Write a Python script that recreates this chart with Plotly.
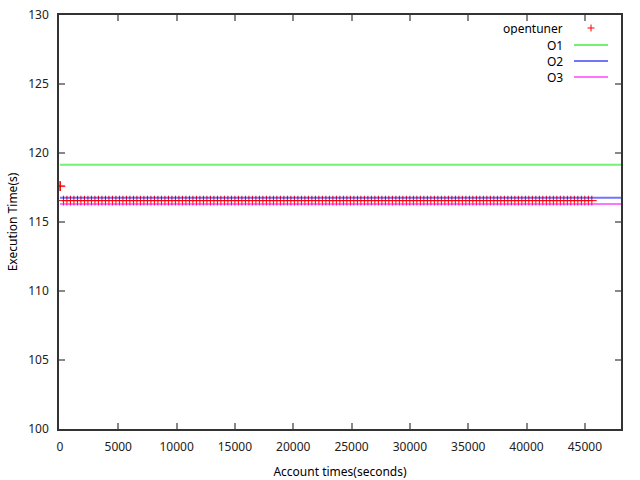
import plotly.graph_objects as go

# ---- data ----
opentuner_x = [0, 40,
    300, 600, 900, 1200, 1500, 1800, 2100, 2400, 2700, 3000,
    3300, 3600, 3900, 4200, 4500, 4800, 5100, 5400, 5700, 6000,
    6300, 6600, 6900, 7200, 7500, 7800, 8100, 8400, 8700, 9000,
    9300, 9600, 9900, 10200, 10500, 10800, 11100, 11400, 11700, 12000,
    12300, 12600, 12900, 13200, 13500, 13800, 14100, 14400, 14700, 15000,
    15300, 15600, 15900, 16200, 16500, 16800, 17100, 17400, 17700, 18000,
    18300, 18600, 18900, 19200, 19500, 19800, 20100, 20400, 20700, 21000,
    21300, 21600, 21900, 22200, 22500, 22800, 23100, 23400, 23700, 24000,
    24300, 24600, 24900, 25200, 25500, 25800, 26100, 26400, 26700, 27000,
    27300, 27600, 27900, 28200, 28500, 28800, 29100, 29400, 29700, 30000,
    30300, 30600, 30900, 31200, 31500, 31800, 32100, 32400, 32700, 33000,
    33300, 33600, 33900, 34200, 34500, 34800, 35100, 35400, 35700, 36000,
    36300, 36600, 36900, 37200, 37500, 37800, 38100, 38400, 38700, 39000,
    39300, 39600, 39900, 40200, 40500, 40800, 41100, 41400, 41700, 42000,
    42300, 42600, 42900, 43200, 43500, 43800, 44100, 44400, 44700, 45000,
    45300, 45600]
opentuner_y = [117.6, 117.6,
    116.55, 116.55, 116.55, 116.55, 116.55, 116.55, 116.55, 116.55, 116.55, 116.55,
    116.55, 116.55, 116.55, 116.55, 116.55, 116.55, 116.55, 116.55, 116.55, 116.55,
    116.55, 116.55, 116.55, 116.55, 116.55, 116.55, 116.55, 116.55, 116.55, 116.55,
    116.55, 116.55, 116.55, 116.55, 116.55, 116.55, 116.55, 116.55, 116.55, 116.55,
    116.55, 116.55, 116.55, 116.55, 116.55, 116.55, 116.55, 116.55, 116.55, 116.55,
    116.55, 116.55, 116.55, 116.55, 116.55, 116.55, 116.55, 116.55, 116.55, 116.55,
    116.55, 116.55, 116.55, 116.55, 116.55, 116.55, 116.55, 116.55, 116.55, 116.55,
    116.55, 116.55, 116.55, 116.55, 116.55, 116.55, 116.55, 116.55, 116.55, 116.55,
    116.55, 116.55, 116.55, 116.55, 116.55, 116.55, 116.55, 116.55, 116.55, 116.55,
    116.55, 116.55, 116.55, 116.55, 116.55, 116.55, 116.55, 116.55, 116.55, 116.55,
    116.55, 116.55, 116.55, 116.55, 116.55, 116.55, 116.55, 116.55, 116.55, 116.55,
    116.55, 116.55, 116.55, 116.55, 116.55, 116.55, 116.55, 116.55, 116.55, 116.55,
    116.55, 116.55, 116.55, 116.55, 116.55, 116.55, 116.55, 116.55, 116.55, 116.55,
    116.55, 116.55, 116.55, 116.55, 116.55, 116.55, 116.55, 116.55, 116.55, 116.55,
    116.55, 116.55, 116.55, 116.55, 116.55, 116.55, 116.55, 116.55, 116.55, 116.55,
    116.55, 116.55]

baseline_x = [0, 48200]
O1_y = [119.15, 119.15]
O2_y = [116.75, 116.75]
O3_y = [116.3, 116.3]

x_ticks = [0, 5000, 10000, 15000, 20000, 25000, 30000, 35000, 40000, 45000]
x_tick_labels = ["0", "5000", "10000", "15000", "20000", "25000", "30000", "35000", "40000", "45000"]
y_ticks = [100, 105, 110, 115, 120, 125, 130]
y_tick_labels = ["100", "105", "110", "115", "120", "125", "130"]

legend_names = ["opentuner", "O1", "O2", "O3"]
legend_colors = ["#ff0000", "rgba(0,230,0,0.55)", "rgba(0,0,255,0.55)", "rgba(255,0,255,0.55)"]

FONT = "Noto Sans, Open Sans, DejaVu Sans, sans-serif"

fig = go.Figure()
fig.add_trace(go.Scatter(x=opentuner_x, y=opentuner_y, mode="markers", name="opentuner",
                         marker=dict(symbol="cross-thin", size=7,
                                     line=dict(color="#ff0000", width=1)),
                         showlegend=False))
for name, ys, col in [("O1", O1_y, legend_colors[1]), ("O2", O2_y, legend_colors[2]),
                      ("O3", O3_y, legend_colors[3])]:
    fig.add_trace(go.Scatter(x=baseline_x, y=ys, mode="lines", name=name,
                             line=dict(color=col, width=2), showlegend=False))

# gnuplot-style legend (text left, key right)
rows_py = [28, 45, 61, 77]
def px2x(px):
    return (px - 59) / 562
def py2y(py):
    return (429 - py) / 414

annotations = []
shapes = []
for i, (nm, col) in enumerate(zip(legend_names, legend_colors)):
    yy = py2y(rows_py[i])
    annotations.append(dict(x=px2x(565), y=yy, xref="paper", yref="paper", text=nm,
                            showarrow=False, xanchor="right", yanchor="middle",
                            height=14, font=dict(family=FONT, size=12, color="#000000")))
    if i == 0:
        cx = px2x(591)
        shapes.append(dict(type="line", xref="paper", yref="paper",
                           x0=cx - 3.5 / 562, x1=cx + 3.5 / 562, y0=yy, y1=yy,
                           line=dict(color=col, width=1)))
        shapes.append(dict(type="line", xref="paper", yref="paper",
                           x0=cx, x1=cx, y0=yy - 3.5 / 414, y1=yy + 3.5 / 414,
                           line=dict(color=col, width=1)))
    else:
        shapes.append(dict(type="line", xref="paper", yref="paper",
                           x0=px2x(574), x1=px2x(608), y0=yy, y1=yy,
                           line=dict(color=col, width=2)))

axis_common = dict(showgrid=False, zeroline=False, showline=True, linecolor="#333333",
                   linewidth=1.5, mirror="ticks", ticks="inside", ticklen=6,
                   tickcolor="#888888", tickwidth=1.5, automargin=False,
                   tickfont=dict(family=FONT, size=12, color="#222222"))

fig.update_layout(
    width=640, height=480,
    margin=dict(l=59, r=19, t=15, b=51, autoexpand=False),
    paper_bgcolor="white", plot_bgcolor="white",
    xaxis=dict(range=[-80, 48100], tickmode="array", tickvals=x_ticks, ticktext=x_tick_labels,
               ticklabelstandoff=6,
               title=dict(text="Account times(seconds)", standoff=14,
                          font=dict(family=FONT, size=12, color="#000000")),
               **axis_common),
    yaxis=dict(range=[100, 130], tickmode="array", tickvals=y_ticks, ticktext=y_tick_labels,
               ticklabelstandoff=6,
               title=dict(text="Execution Time(s)", standoff=8,
                          font=dict(family=FONT, size=12, color="#000000")),
               **axis_common),
    annotations=annotations, shapes=shapes,
    showlegend=False,
)

fig.write_html("out.html", config={"displayModeBar": False},
               post_script="document.body.style.margin='0';document.body.style.overflow='hidden';")
